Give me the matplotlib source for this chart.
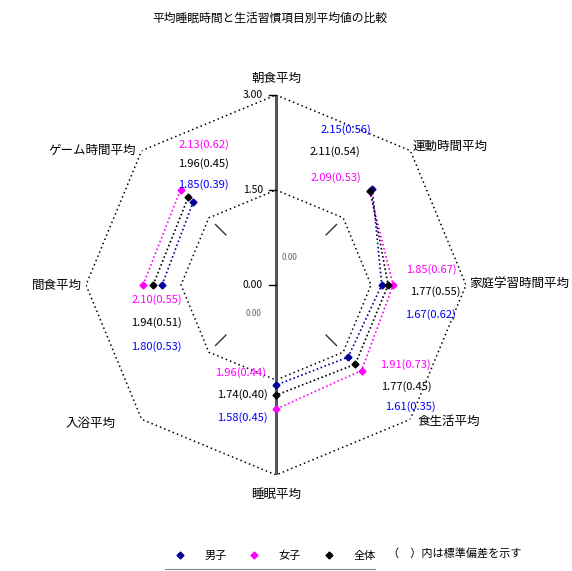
#!/usr/bin/env python3
"""Radar chart: lifestyle item averages by group (boys / girls / all)."""

import numpy as np
import matplotlib
matplotlib.use("Agg")
import matplotlib.pyplot as plt
from matplotlib.lines import Line2D

plt.rcParams["font.family"] = ["Noto Sans CJK JP", "DejaVu Sans"]

W, H = 572, 571

TITLE = "平均睡眠時間と生活習慣項目別平均値の比較"
CATEGORIES = ["朝食平均", "運動時間平均", "家庭学習時間平均", "食生活平均",
              "睡眠平均", "入浴平均", "間食平均", "ゲーム時間平均"]
SERIES = ["男子", "女子", "全体"]

# top, upper-right, right, lower-right, bottom, lower-left, left, upper-left
BOYS = [np.nan, 2.15, 1.67, 1.61, 1.58, np.nan, 1.80, 1.85]
GIRLS = [np.nan, 2.09, 1.85, 1.91, 1.96, np.nan, 2.10, 2.13]
ALL = [np.nan, 2.11, 1.77, 1.77, 1.74, np.nan, 1.94, 1.96]
BOYS_SD = [np.nan, 0.56, 0.62, 0.35, 0.45, np.nan, 0.53, 0.39]
GIRLS_SD = [np.nan, 0.53, 0.67, 0.73, 0.44, np.nan, 0.55, 0.62]
ALL_SD = [np.nan, 0.54, 0.55, 0.45, 0.40, np.nan, 0.51, 0.45]

R_MAX = 3.0
RINGS = [1.5, 3.0]
TICK_LABELS = ["0.00", "1.50", "3.00"]
NOTE = "（　）内は標準偏差を示す"

LINE_COLORS = ["#000099", "#FF00FF", "#000000"]
TEXT_COLORS = ["#0000FF", "#FF00FF", "#000000"]

# label anchors in pixels: axis index -> (x, y) for boys, girls, all ; alignment
LABEL_POS = {
    1: ([(346, 130), (336, 178), (335, 152)], "center"),
    2: ([(431, 315), (431, 270), (435, 292)], "center"),
    3: ([(410, 407), (405, 365), (406, 387)], "center"),
    4: ([(268, 418), (266, 373), (268, 395)], "right"),
    6: ([(182, 347), (182, 300), (182, 323)], "right"),
    7: ([(229, 185), (229, 145), (229, 164)], "right"),
}

# category label anchors in pixels
CAT_POS = [(276, 78, "center"), (413, 146, "left"), (469, 284, "left"),
           (418, 421, "left"), (276, 494, "center"), (116, 423, "right"),
           (82, 285, "right"), (136, 150, "right")]


def px(x, y):
    return x / W, 1 - y / H


fig = plt.figure(figsize=(W / 100, H / 100), dpi=100)
fig.patch.set_facecolor("white")

cx, cy, rad = 276, 285, 190
ax = fig.add_axes([(cx - rad) / W, (H - cy - rad) / H, 2 * rad / W, 2 * rad / H],
                  projection="polar")
ax.set_theta_zero_location("N")
ax.set_theta_direction(-1)
ax.set_ylim(0, R_MAX)
ax.axis("off")

n = len(CATEGORIES)
theta = np.arange(n) * 2 * np.pi / n
theta_closed = np.append(theta, theta[0])

for r in RINGS:
    ax.plot(theta_closed, [r] * (n + 1), color="black", ls=(0, (1, 2)), lw=1.1,
            zorder=1)

# vertical value axis
ax.plot([0, 0], [0, R_MAX], color="#555555", lw=2.2, zorder=2)
ax.plot([np.pi, np.pi], [0, R_MAX], color="#555555", lw=2.2, zorder=2)
for t in theta[1::2]:
    ax.plot([t, t], [1.12, 1.35], color="#333333", lw=1, zorder=1)

for i, (vals, col) in enumerate(zip([BOYS, GIRLS, ALL], LINE_COLORS)):
    v = np.array(vals + [vals[0]])
    ax.plot(theta_closed, v, color=col, ls=(0, (1, 1.5)), lw=1.2, marker="D",
            markersize=3.5, zorder=3 + i)

# value axis labels
for r, lab in zip([0.0] + RINGS[:-1] + [R_MAX], TICK_LABELS):
    ypix = cy - r / R_MAX * rad
    fig.text(*px(263, ypix), lab, ha="right", va="center", fontsize=7.5)
    fig.add_artist(Line2D([269 / W, 276 / W], [1 - ypix / H] * 2,
                          color="black", lw=1))
fig.text(*px(282, 257), "0.00", ha="left", va="center", fontsize=6, color="#666666")
fig.text(*px(254, 313), "0.00", ha="center", va="center", fontsize=6,
         color="#666666")

# data labels: mean (sd)
for idx, (positions, ha) in LABEL_POS.items():
    for s, (vals, sds) in enumerate(zip([BOYS, GIRLS, ALL],
                                        [BOYS_SD, GIRLS_SD, ALL_SD])):
        x, y = positions[s]
        fig.text(*px(x, y), f"{vals[idx]:.2f}({sds[idx]:.2f})", ha=ha,
                 va="center", fontsize=8, color=TEXT_COLORS[s])

for lab, (x, y, ha) in zip(CATEGORIES, CAT_POS):
    fig.text(*px(x, y), lab, ha=ha, va="center", fontsize=9)

fig.text(*px(270, 18), TITLE, ha="center", va="center", fontsize=8.5)

handles = [Line2D([], [], color=c, marker="D", markersize=3.5, ls="none")
           for c in LINE_COLORS]
fig.legend(handles, SERIES, loc="center", bbox_to_anchor=px(272, 556), ncol=3,
           frameon=False, fontsize=8, handletextpad=1.2, columnspacing=1.5)
fig.add_artist(Line2D([165 / W, 375 / W], [1 - 569 / H] * 2, color="#888888",
                      lw=0.8))
fig.text(*px(388, 553), NOTE, ha="left", va="center", fontsize=8)

fig.savefig("out.png", dpi=100)
